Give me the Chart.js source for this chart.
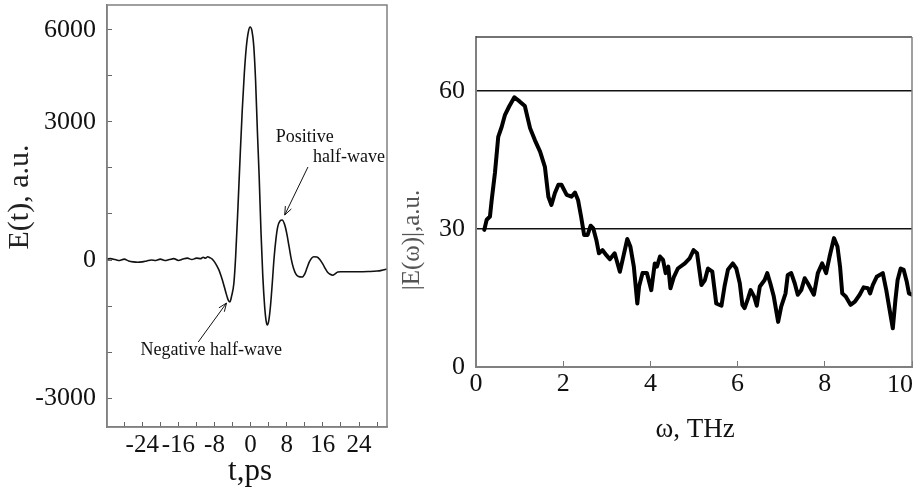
<!DOCTYPE html>
<html><head><meta charset="utf-8">
<script src="https://cdn.jsdelivr.net/npm/chart.js@4"></script>
<style>
html,body{margin:0;padding:0;background:#fff;overflow:hidden;width:913px;height:490px;}
#wrapL{position:absolute;left:0;top:0;width:400px;height:490px;}
#wrapR{position:absolute;left:400px;top:0;width:540px;height:490px;}
canvas{display:block;}
</style></head><body>
<div id="wrapL"><canvas id="left" width="400" height="490"></canvas></div>
<div id="wrapR"><canvas id="right" width="540" height="490"></canvas></div>
<script>
// ---------- Left panel: time-domain pulse ----------
const timePs = [-31.8,-31,-30,-29,-28,-27,-26,-25,-24,-23,-22,-21,-20,-19,-18,-17,-16,-15,-14,-13,-12,-11,-10.5,-10,-9.5,-9,-8.5,-8,-7.5,-7,-6.5,-6,-5.5,-5,-4.6,-4.2,-3.7,-3.3,-2.8,-2.3,-1.85,-1.4,-0.95,-0.5,-0.1,0.3,0.7,1.1,1.5,1.9,2.3,2.7,3.1,3.4,3.7,4.0,4.4,4.8,5.2,5.6,6.0,6.5,7.0,7.5,8.0,8.5,9.0,9.5,10.0,10.6,11.4,12.0,12.5,13.0,13.5,14.0,14.7,15.4,16.0,16.5,17.0,17.6,18.2,18.7,19.3,20,22,24,26,28,29,30.2];
const fieldAU = [20,30,10,-10,20,-20,-40,-50,-40,-20,0,-10,20,-10,10,30,-10,20,40,10,40,30,60,40,70,50,20,-40,-120,-220,-360,-520,-700,-860,-913,-780,-500,100,1150,2300,3260,4050,4630,4960,5065,4980,4650,3900,2800,1800,600,-350,-1000,-1300,-1413,-1330,-1000,-500,50,450,720,850,870,780,580,300,20,-180,-300,-360,-370,-300,-170,-40,40,70,65,0,-90,-180,-260,-310,-330,-300,-260,-255,-255,-255,-250,-240,-225,-195];
const timeTicks = [-28,-24,-20,-16,-12,-8,-4,0,4,8,12,16,20,24,28];
const timeTickLabels = [-24,-16,-8,0,8,16,24];
const fieldTicks = [-3000,-2000,-1000,0,1000,2000,3000,4000,5000];
const fieldTickText = {"-3000":"-3000","0":"0","3000":"3000","5000":"6000"};

// ---------- Right panel: spectrum ----------
const freqTHz = [0.19,0.245,0.32,0.36,0.435,0.51,0.59,0.665,0.76,0.88,1.0,1.12,1.24,1.35,1.47,1.58,1.66,1.73,1.81,1.89,1.96,2.08,2.19,2.27,2.34,2.41,2.48,2.56,2.63,2.69,2.76,2.82,2.9,2.99,3.07,3.18,3.3,3.37,3.47,3.54,3.62,3.7,3.74,3.82,3.92,4.02,4.1,4.15,4.22,4.29,4.35,4.41,4.46,4.54,4.63,4.79,4.9,4.99,5.07,5.17,5.25,5.32,5.42,5.51,5.63,5.7,5.78,5.89,5.97,6.05,6.11,6.16,6.24,6.3,6.38,6.44,6.51,6.62,6.68,6.75,6.83,6.93,7.0,7.1,7.15,7.23,7.31,7.38,7.46,7.54,7.61,7.75,7.84,7.94,8.03,8.11,8.21,8.29,8.35,8.4,8.48,8.59,8.69,8.8,8.89,8.99,9.04,9.1,9.19,9.33,9.41,9.48,9.56,9.62,9.67,9.74,9.81,9.88,9.93,10.0];
const spectrumAU = [29.8,32,32.7,36.3,42.2,50,52.2,54.8,56.6,58.6,57.7,56.7,51.9,49.3,46.8,43.5,37,35.2,37.8,39.6,39.6,37.4,37,37.9,36.3,32.7,28.7,28.7,30.7,30.1,27.6,24.7,25.4,24.3,23.4,24.7,20.7,23.6,27.8,26.2,21.8,13.8,17.5,20.4,20.4,16.7,22.5,21.8,24,23.3,20.4,21.8,17.1,19.6,21.4,22.5,23.6,25.4,24.7,17.8,18.9,21.4,20.7,13.8,13.3,17.5,21.2,22.5,21.4,18.2,13.5,12.8,14.9,16.7,15.3,13.3,17.5,18.9,20.4,18.2,15.3,9.8,13.1,16,20,20.4,18.2,15.7,16.7,19.3,18.2,15.7,20.4,22.5,20.4,24,28,26.2,21.8,16,15.3,13.5,14.2,15.7,17.3,17.1,16,17.8,19.6,20.4,16.7,12.8,8.4,14.6,18.9,21.4,21.1,18.5,16,15.7];
const freqTicks = [0,2,4,6,8,10];
const freqTickLabels = [0,2,4,6,8];
const specTicks = [0,30,60];

// ---------- Annotations (data coordinates) ----------
const annoTexts = [
  {text:"Positive", t:5.55, v:2674, align:"left"},
  {text:"half-wave", t:13.8, v:2239, align:"left"},
  {text:"Negative half-wave", t:-8.7, v:-1957, align:"center"}
];
const annoArrows = [
  {from:[12.7,2022], to:[7.55,978]},
  {from:[-11.6,-1783], to:[-5.33,-935]}
];

const SERIF = "'Liberation Serif','Times New Roman',serif";
const INK = '#111';

function zeroPad(s){ s.paddingLeft = 0; s.paddingRight = 0; s.paddingTop = 0; s.paddingBottom = 0; }

function drawText(ctx, o){
  ctx.save();
  ctx.font = o.font;
  ctx.fillStyle = o.color || INK;
  ctx.textAlign = o.align || 'center';
  ctx.textBaseline = 'middle';
  ctx.translate(o.x, o.y);
  if (o.rotate) ctx.rotate(o.rotate);
  ctx.fillText(o.text, 0, 0);
  ctx.restore();
}

const leftPlugin = {
  id:'leftDecor',
  afterDraw(chart){
    const {ctx, chartArea:a, scales:{x,y}} = chart;
    ctx.save();
    ctx.strokeStyle = '#808080'; ctx.lineWidth = 1.5;
    ctx.strokeRect(a.left, a.top, a.right-a.left, a.bottom-a.top);
    // arrows
    ctx.strokeStyle = '#111'; ctx.lineWidth = 1;
    annoArrows.forEach(ar => {
      const x1 = x.getPixelForValue(ar.from[0]), y1 = y.getPixelForValue(ar.from[1]);
      const x2 = x.getPixelForValue(ar.to[0]), y2 = y.getPixelForValue(ar.to[1]);
      ctx.beginPath(); ctx.moveTo(x1,y1); ctx.lineTo(x2,y2); ctx.stroke();
      const ang = Math.atan2(y2-y1, x2-x1), L = 9, sp = 0.38;
      ctx.beginPath();
      ctx.moveTo(x2 - L*Math.cos(ang-sp), y2 - L*Math.sin(ang-sp));
      ctx.lineTo(x2, y2);
      ctx.lineTo(x2 - L*Math.cos(ang+sp), y2 - L*Math.sin(ang+sp));
      ctx.stroke();
    });
    ctx.restore();
    annoTexts.forEach(t => drawText(ctx, {text:t.text, x:x.getPixelForValue(t.t), y:y.getPixelForValue(t.v), align:t.align, font:`18px ${SERIF}`}));
    drawText(ctx, {text:'E(t), a.u.', x:20, y:197, rotate:-Math.PI/2, font:`30px ${SERIF}`, color:'#222'});
    drawText(ctx, {text:'t,ps', x:(a.left+a.right)/2+3, y:472, font:`31px ${SERIF}`});
  }
};

new Chart(document.getElementById('left'), {
  type:'line',
  data:{ datasets:[{
    data: timePs.map((t,i)=>({x:t, y:fieldAU[i]})),
    borderColor:'#111', borderWidth:1.6, pointRadius:0, fill:false,
    cubicInterpolationMode:'monotone'
  }]},
  options:{
    responsive:false, animation:false, devicePixelRatio:1,
    layout:{padding:{left:0, top:5, right:13, bottom:0}},
    plugins:{legend:{display:false}, tooltip:{enabled:false}},
    scales:{
      x:{type:'linear', min:-31.8, max:30.2,
        afterBuildTicks: s => { s.ticks = timeTicks.map(v=>({value:v})); },
        afterFit: s => { s.height = 63; zeroPad(s); },
        ticks:{autoSkip:false, maxRotation:0, minRotation:0, padding:8, color:INK,
          font:{family:SERIF, size:25},
          callback: v => timeTickLabels.includes(v) ? String(v) : ''},
        grid:{drawOnChartArea:false, drawTicks:true, tickLength:-5, color:'#666', lineWidth:1},
        border:{display:true, color:'#808080', width:1.5}
      },
      y:{type:'linear', min:-3630, max:5543,
        afterBuildTicks: s => { s.ticks = fieldTicks.map(v=>({value:v})); },
        afterFit: s => { s.width = 107; zeroPad(s); },
        ticks:{autoSkip:false, padding:16, color:INK, font:{family:SERIF, size:26},
          callback: v => (fieldTickText[String(v)] !== undefined ? fieldTickText[String(v)] : '')},
        grid:{drawOnChartArea:false, drawTicks:true, tickLength:-5, color:'#666', lineWidth:1},
        border:{display:true, color:'#808080', width:1.5}
      }
    }
  },
  plugins:[leftPlugin]
});

const rightPlugin = {
  id:'rightDecor',
  afterDraw(chart){
    const {ctx, chartArea:a, scales:{x}} = chart;
    ctx.save();
    ctx.strokeStyle = '#444'; ctx.lineWidth = 1.5;
    ctx.beginPath(); ctx.moveTo(a.left, a.top); ctx.lineTo(a.right, a.top); ctx.stroke();
    ctx.strokeStyle = '#808080';
    ctx.beginPath(); ctx.moveTo(a.right, a.top); ctx.lineTo(a.right, a.bottom); ctx.stroke();
    ctx.restore();
    drawText(ctx, {text:'10', x:x.getPixelForValue(10)+1, y:385, align:'right', font:`26px ${SERIF}`});
    drawText(ctx, {text:'|E(ω)|,a.u.', x:12, y:240, rotate:-Math.PI/2, font:`25px ${SERIF}`, color:'#555'});
    drawText(ctx, {text:'ω, THz', x:(a.left+a.right)/2+1, y:430, font:`27px ${SERIF}`});
  }
};

new Chart(document.getElementById('right'), {
  type:'line',
  data:{ datasets:[{
    data: freqTHz.map((f,i)=>({x:f, y:spectrumAU[i]})),
    borderColor:'#000', borderWidth:4, pointRadius:0, fill:false, tension:0,
    borderJoinStyle:'round', borderCapStyle:'round'
  }]},
  options:{
    responsive:false, animation:false, devicePixelRatio:1,
    layout:{padding:{left:0, top:37, right:28, bottom:0}},
    plugins:{legend:{display:false}, tooltip:{enabled:false}},
    scales:{
      x:{type:'linear', min:0, max:10,
        afterBuildTicks: s => { s.ticks = freqTicks.map(v=>({value:v})); },
        afterFit: s => { s.height = 123; zeroPad(s); },
        ticks:{autoSkip:false, maxRotation:0, minRotation:0, padding:8, color:INK,
          font:{family:SERIF, size:26},
          callback: v => freqTickLabels.includes(v) ? String(v) : ''},
        grid:{drawOnChartArea:false, drawTicks:true, tickLength:-6, color:'#777', lineWidth:1},
        border:{display:true, color:'#808080', width:2}
      },
      y:{type:'linear', min:0, max:71.7,
        afterBuildTicks: s => { s.ticks = specTicks.map(v=>({value:v})); },
        afterFit: s => { s.width = 76; zeroPad(s); },
        ticks:{autoSkip:false, padding:11, color:INK, font:{family:SERIF, size:26},
          callback: v => String(v)},
        grid:{drawOnChartArea:true, drawTicks:false,
          color: c => (c.tick && c.tick.value === 0) ? 'rgba(0,0,0,0)' : '#111', lineWidth:1.5},
        border:{display:true, color:'#808080', width:2}
      }
    }
  },
  plugins:[rightPlugin]
});
</script>
</body></html>
